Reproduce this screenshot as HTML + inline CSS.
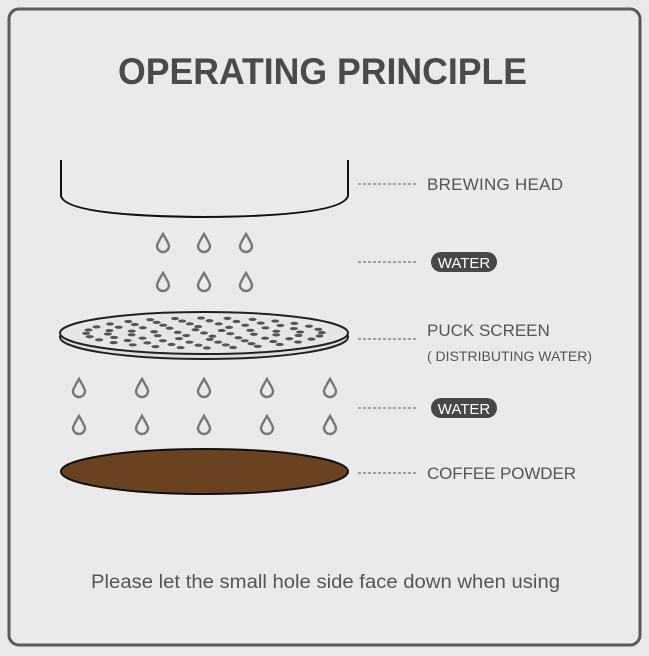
<!DOCTYPE html>
<html><head><meta charset="utf-8"><style>
html,body{margin:0;padding:0;background:#e9e9e9;}
svg{display:block;}
text{font-family:"Liberation Sans",sans-serif;}
</style></head><body>
<svg id="s" width="649" height="656" viewBox="0 0 649 656" xmlns="http://www.w3.org/2000/svg">
<rect x="0" y="0" width="649" height="656" fill="#e9e9e9"/>
<rect x="9" y="9" width="631" height="636" rx="10" fill="#eaeaea" stroke="#5a5a5a" stroke-width="3"/>
<text x="118" y="84" font-size="37" font-weight="bold" fill="#4a4a4a" textLength="409" lengthAdjust="spacingAndGlyphs">OPERATING PRINCIPLE</text>
<path d="M61 160 V196 Q66 216 204 217 Q342 216 348 196 V160" fill="none" stroke="#111" stroke-width="2"/>
<g id="drops" fill="none" stroke="#777" stroke-width="2.4"></g>
<ellipse cx="204" cy="337" rx="144" ry="22" fill="#ddd" stroke="#222" stroke-width="2"/>
<ellipse cx="204" cy="333" rx="144" ry="21" fill="#e6e6e6" stroke="#222" stroke-width="2"/>
<g id="holes" fill="#555"></g>
<ellipse cx="204.5" cy="471.5" rx="143.5" ry="22.5" fill="#6b4220" stroke="#111" stroke-width="2"/>
<g stroke="#555" stroke-width="1" stroke-dasharray="3,2">
<line x1="358" y1="184" x2="418" y2="184"/>
<line x1="358" y1="262" x2="418" y2="262"/>
<line x1="358" y1="339" x2="418" y2="339"/>
<line x1="358" y1="408" x2="418" y2="408"/>
<line x1="358" y1="473" x2="418" y2="473"/>
</g>
<g fill="#555" font-size="17">
<text x="427" y="190" textLength="136">BREWING HEAD</text>
<text x="427" y="336">PUCK SCREEN</text>
<text x="427" y="361" font-size="14" textLength="165">( DISTRIBUTING WATER)</text>
<text x="427" y="479" textLength="149">COFFEE POWDER</text>
</g>
<rect x="431" y="252" width="66" height="20" rx="10" fill="#474747"/>
<text x="464" y="268" font-size="15" fill="#fff" text-anchor="middle">WATER</text>
<rect x="431" y="398" width="66" height="20" rx="10" fill="#474747"/>
<text x="464" y="414" font-size="15" fill="#fff" text-anchor="middle">WATER</text>
<text x="91" y="588" font-size="19" fill="#555" textLength="469" lengthAdjust="spacingAndGlyphs">Please let the small hole side face down when using</text>
</svg>
<script>
var ns="http://www.w3.org/2000/svg";
var d=document.getElementById("drops");
function drop(x,y){var p=document.createElementNS(ns,"path");
p.setAttribute("d","M"+x+" "+(y-9)+" C"+(x-3)+" "+(y-4)+" "+(x-6)+" "+(y+1)+" "+(x-6)+" "+(y+3)+" A6 6 0 0 0 "+(x+6)+" "+(y+3)+" C"+(x+6)+" "+(y+1)+" "+(x+3)+" "+(y-4)+" "+x+" "+(y-9)+" Z");d.appendChild(p);}
[163,204,246].forEach(function(x){drop(x,243);drop(x,282);});
[79,142,204,267,330].forEach(function(x){drop(x,388);drop(x,425);});
var h=document.getElementById("holes");
var rings=[[0,1],[0.2,6],[0.38,10],[0.55,16],[0.72,22],[0.88,28]];
rings.forEach(function(r){for(var i=0;i<r[1];i++){var a=2*Math.PI*i/r[1]+(r[1]%12?0.2:0);
var e=document.createElementNS(ns,"ellipse");
e.setAttribute("cx",204+Math.cos(a)*r[0]*134);e.setAttribute("cy",333+Math.sin(a)*r[0]*17);
e.setAttribute("rx",4);e.setAttribute("ry",1.6);h.appendChild(e);}});
</script>
</body></html>
